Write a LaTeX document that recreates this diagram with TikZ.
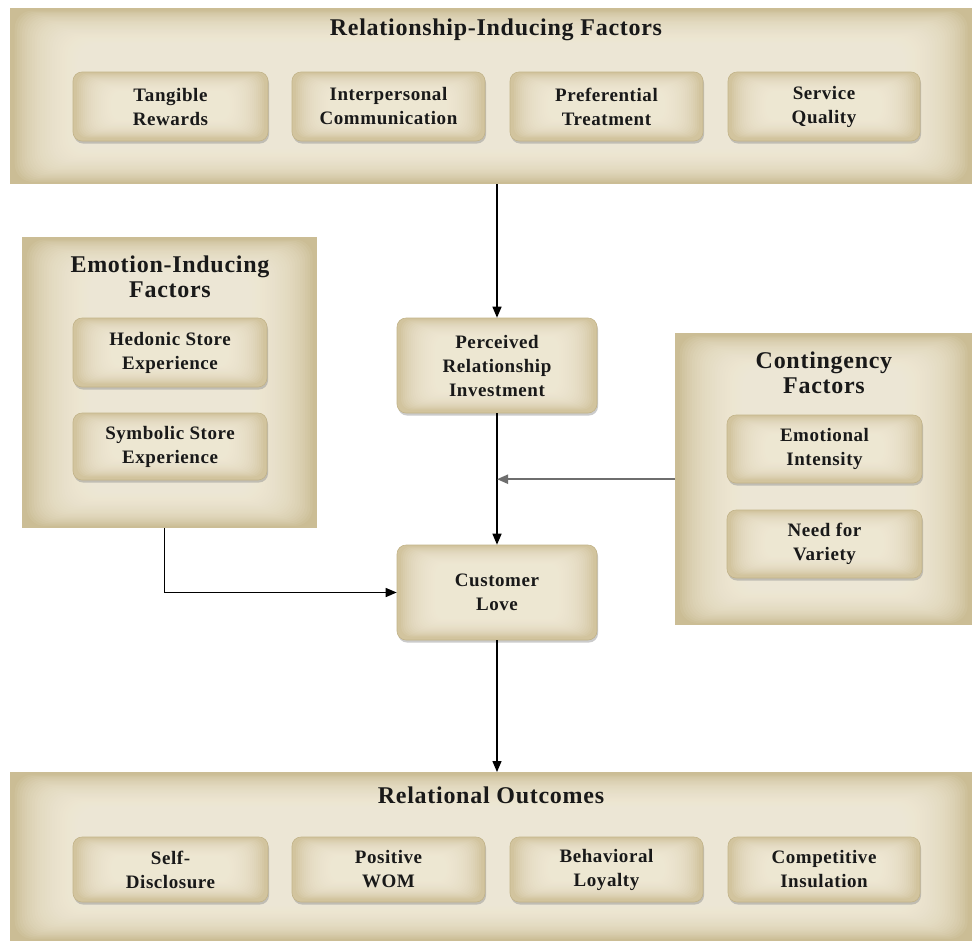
\documentclass[tikz,border=0pt]{standalone}
\usepackage{fontspec}
\setmainfont{Liberation Serif}[LetterSpace=3]
\usetikzlibrary{arrows.meta,shadows}

\definecolor{panelout}{HTML}{CBBD95}
\definecolor{panelin}{HTML}{F7F1E1}
\definecolor{boxout}{HTML}{D2C49E}
\definecolor{boxin}{HTML}{F6F0DE}
\definecolor{boxline}{HTML}{C2B388}
\definecolor{inkgray}{HTML}{6E6E6E}

\tikzset{
  panel/.style={inner sep=0pt, anchor=north west, fill=panelout, path picture={
      \foreach \k [evaluate=\k as \dx using 2+2.5*\k, evaluate=\k as \dy using 1+1.3*\k] in {1,...,26}
        \fill[panelin, opacity=0.085, rounded corners=18pt]
          ([shift={({\dx*1pt},{-\dy*1pt})}]path picture bounding box.north west) rectangle
          ([shift={({-\dx*1pt},{\dy*1pt})}]path picture bounding box.south east);
    }},
  paneltitle/.style={align=center, text=black!90, font=\fontsize{24}{25}\selectfont\bfseries},
  factor/.style={rounded corners=9pt, draw=boxline, line width=0.6pt, fill=boxout,
    drop shadow={shadow xshift=1pt, shadow yshift=-2.5pt, fill=black!45, opacity=0.45},
    path picture={
      \foreach \k [evaluate=\k as \dx using 2+2*\k, evaluate=\k as \dy using 0.5+1*\k] in {1,...,18}
        \fill[boxin, opacity=0.11, rounded corners=10pt]
          ([shift={({\dx*1pt},{-\dy*1pt})}]path picture bounding box.north west) rectangle
          ([shift={({-\dx*1pt},{(\dy+2)*1pt})}]path picture bounding box.south east);
    },
    align=center, inner sep=2pt, text=black!90, font=\fontsize{19}{24}\selectfont\bfseries},
  link/.style={line width=1.4pt, -{Triangle[length=11pt,width=9pt]}},
}

\begin{document}
\begin{tikzpicture}[x=1pt, y=-1pt]
    \useasboundingbox[fill=white] (0,0) rectangle (972,943);

    %relationship-inducing factors
    \node[panel, minimum width=962pt, minimum height=176pt] (relfac) at (10,8) {};
    \node[paneltitle] (reltitle) at (496,30) {Relationship-Inducing Factors};
    \node[factor, minimum width=195pt, minimum height=69pt] (tangible) at (170.5,106.5) {Tangible\\Rewards};
    \node[factor, minimum width=193pt, minimum height=69pt] (interpers) at (388.5,106.5) {Interpersonal\\Communication};
    \node[factor, minimum width=193pt, minimum height=69pt] (preferent) at (606.5,106.5) {Preferential\\Treatment};
    \node[factor, minimum width=192pt, minimum height=69pt] (service) at (824,106.5) {Service\\Quality};

    %emotion-inducing factors
    \node[panel, minimum width=295pt, minimum height=291pt] (emofac) at (22,237) {};
    \node[paneltitle] (emotitle) at (170,277) {Emotion-Inducing\\Factors};
    \node[factor, minimum width=194pt, minimum height=69pt] (hedonic) at (170,352.5) {Hedonic Store\\Experience};
    \node[factor, minimum width=194pt, minimum height=67pt] (symbolic) at (170,446.5) {Symbolic Store\\Experience};

    %contingency factors
    \node[panel, minimum width=297pt, minimum height=292pt] (confac) at (675,333) {};
    \node[paneltitle] (contitle) at (824,373) {Contingency\\Factors};
    \node[factor, minimum width=195pt, minimum height=68pt] (intensity) at (824.5,449) {Emotional\\Intensity};
    \node[factor, minimum width=195pt, minimum height=68pt] (variety) at (824.5,544) {Need for\\Variety};

    %centre column
    \node[factor, minimum width=200pt, minimum height=95pt] (perceived) at (497,365.5) {Perceived\\Relationship\\Investment};
    \node[factor, minimum width=200pt, minimum height=95pt] (love) at (497,592.5) {Customer\\Love};

    %relational outcomes
    \node[panel, minimum width=962pt, minimum height=169pt] (relout) at (10,772) {};
    \node[paneltitle] (outtitle) at (491,795) {Relational Outcomes};
    \node[factor, minimum width=195pt, minimum height=65pt] (disclose) at (170.5,869.5) {Self-\\Disclosure};
    \node[factor, minimum width=193pt, minimum height=65pt] (wom) at (388.5,869.5) {Positive\\WOM};
    \node[factor, minimum width=193pt, minimum height=65pt] (loyalty) at (606.5,869.5) {Behavioral\\Loyalty};
    \node[factor, minimum width=192pt, minimum height=65pt] (insulate) at (824,869.5) {Competitive\\Insulation};

    %links
    \coordinate (join) at (perceived.south |- confac.west);
    \draw[link] (perceived.north |- relfac.south) -- (perceived.north);
    \draw[link] (perceived.south) -- (love.north);
    \draw[link, draw=inkgray, line width=2pt] (confac.west) -- (join);
    \draw[link] ([xshift=-5pt]emofac.south) |- (love.west);
    \draw[link] (love.south) -- (love.south |- relout.north);
\end{tikzpicture}
\end{document}
